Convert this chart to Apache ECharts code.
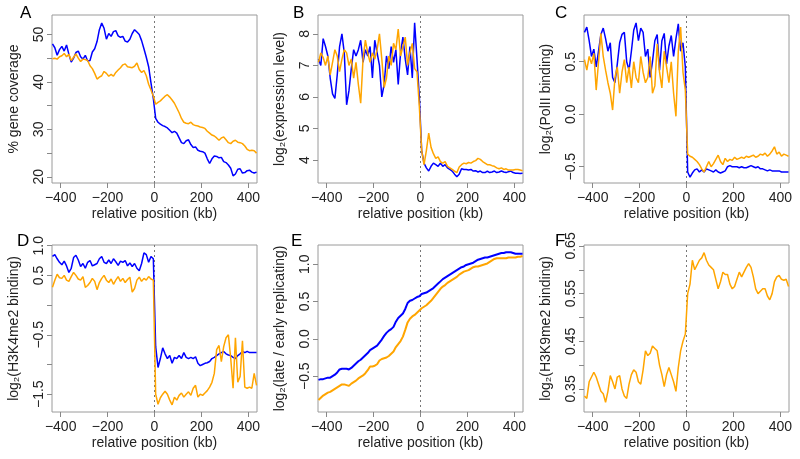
<!DOCTYPE html>
<html>
<head>
<meta charset="utf-8">
<script src="https://cdn.jsdelivr.net/npm/echarts@6/dist/echarts.min.js"></script>
<style>html,body{margin:0;padding:0;background:#fff}#c{width:800px;height:459px}</style>
</head>
<body>
<div id="c"></div>
<script>
// relative position (kb) of each sample
const positions = [
 -435,-425,-415,-405,-395,-385,-375,-365,-355,-345,-335,
 -325,-315,-305,-295,-285,-275,-265,-255,-245,-235,-225,
 -215,-205,-195,-185,-175,-165,-155,-145,-135,-125,-115,
 -105,-95,-85,-75,-65,-55,-45,-35,-25,-15,-5,
 5,15,25,35,45,55,65,75,85,95,105,
 115,125,135,145,155,165,175,185,195,205,215,
 225,235,245,255,265,275,285,295,305,315,325,
 335,345,355,365,375,385,395,405,415,425,435
];
const xTicks = [-400, -200, 0, 200, 400];

// A: % gene coverage
const aBlue = [
 48,47.2,45.6,46.8,47.5,46.5,47.8,45.8,44.2,45,46.2,
 46.5,45.3,44.8,45.6,44.4,44.5,46.3,47,48.5,51,52.4,
 51.3,49,50.2,49.6,50.6,50.8,49.7,49.4,49.6,48.6,48.4,
 49,50.2,51,50.5,50,48.7,47,45.2,43.2,39.8,36.5,
 32.3,31.5,31.1,30.8,30.6,30.3,29.8,29.3,29.6,29.2,28.2,
 27.2,27,27.6,27.8,26.8,26.2,26.3,25.6,25.4,25.3,25,
 23.8,22.8,23.8,24.4,24.3,24,24.1,23.2,23,22.5,21.8,
 20.2,20.6,21.6,21.7,20.8,20.9,21.3,21.4,21,20.8,21
];
const aOrange = [
 44.9,45,44.8,45.3,45.5,46,45.3,45.8,44.5,45.2,45.9,
 45,44.3,44.8,44.7,44.5,43.4,42.8,41.8,40.6,41,41.3,
 42.2,41.8,41.2,41.6,41.2,42,42.5,43,43.6,43.8,43.2,
 43.1,43,43.3,44,42.6,42,42.4,41.3,39.5,38.3,37,
 35.3,35.7,36,36.5,37,37.3,36.8,36.2,35.5,34.5,33.5,
 32.3,31.5,31.3,31.2,31.5,31,30.8,30.7,30.5,30.4,30.2,
 29.6,29.2,28.8,28.6,28.2,27.7,28.2,28.4,27.8,27.2,27,
 27.5,27.7,27.3,27.2,27,26.5,25.8,25.5,25.6,25.5,25
];
// B: log2(expression level)
const bBlue = [
 7.2,7.0,7.85,7.6,7.3,6.6,6.1,5.95,6.7,7.6,8.0,
 7.4,5.75,6.2,6.9,7.5,7.3,7.5,7.8,7.1,7.5,7.3,
 7.6,6.6,7.8,7.4,7.0,6.0,6.4,7.3,6.9,7.6,7.1,
 7.5,6.4,7.4,7.9,7.2,6.7,7.6,6.6,8.35,7.2,6.0,
 4.3,3.9,3.75,3.65,3.8,3.9,3.85,3.8,3.9,3.8,3.85,
 3.75,3.7,3.65,3.55,3.47,3.55,3.72,3.7,3.7,3.68,3.7,
 3.65,3.66,3.62,3.65,3.6,3.6,3.65,3.6,3.62,3.65,3.6,
 3.62,3.65,3.62,3.6,3.63,3.65,3.6,3.58,3.58,3.57,3.58
];
const bOrange = [
 7.1,7.4,7.25,7.0,7.3,6.7,7.1,7.5,7.3,6.8,7.2,
 7.5,7.4,7.0,7.2,6.6,7.1,6.4,5.8,7.2,7.8,7.4,
 7.1,7.4,7.2,7.5,8.0,7.2,6.3,6.6,7.3,7.0,7.7,
 7.5,8.15,7.3,7.6,7.9,7.0,7.4,7.7,6.9,6.8,5.7,
 4.3,3.85,4.3,4.85,4.4,4.2,4.05,4.1,3.95,3.9,3.95,
 3.8,3.75,3.7,3.65,3.6,3.78,3.85,3.9,3.88,3.92,3.9,
 3.95,3.98,4.05,4.02,3.95,3.9,3.85,3.85,3.82,3.8,3.75,
 3.72,3.75,3.7,3.72,3.68,3.68,3.68,3.7,3.7,3.68,3.66
];
// C: log2(PolII binding)
const cBlue = [
 0.78,0.83,0.7,0.55,0.62,0.45,0.6,0.76,0.82,0.72,0.6,
 0.68,0.35,0.3,0.48,0.68,0.76,0.78,0.5,0.42,0.6,0.8,
 0.87,0.7,0.82,0.78,0.55,0.62,0.35,0.5,0.7,0.76,0.42,
 0.7,0.77,0.48,0.65,0.75,0.55,0.72,0.86,0.6,0.68,0.45,
 -0.55,-0.6,-0.56,-0.53,-0.52,-0.55,-0.53,-0.55,-0.52,-0.53,-0.54,
 -0.55,-0.53,-0.55,-0.56,-0.55,-0.54,-0.5,-0.49,-0.5,-0.5,-0.5,
 -0.51,-0.5,-0.51,-0.51,-0.5,-0.49,-0.5,-0.51,-0.5,-0.52,-0.52,
 -0.53,-0.54,-0.53,-0.54,-0.54,-0.54,-0.54,-0.55,-0.55,-0.55,-0.55
];
const cOrange = [
 0.52,0.42,0.55,0.48,0.58,0.23,0.5,0.77,0.55,0.42,0.3,
 0.2,0.04,0.35,0.45,0.2,0.4,0.52,0.3,0.45,0.25,0.5,
 0.35,0.3,0.55,0.4,0.3,0.35,0.55,0.2,0.27,0.67,0.4,
 0.25,0.6,0.45,0.3,0.5,0.2,-0.02,0.6,0.83,0.4,0.23,
 -0.38,-0.4,-0.41,-0.43,-0.45,-0.48,-0.52,-0.55,-0.5,-0.45,-0.5,
 -0.47,-0.43,-0.39,-0.45,-0.48,-0.42,-0.45,-0.43,-0.44,-0.41,-0.43,
 -0.42,-0.41,-0.42,-0.4,-0.41,-0.4,-0.39,-0.41,-0.4,-0.38,-0.39,
 -0.37,-0.4,-0.38,-0.35,-0.31,-0.38,-0.36,-0.4,-0.38,-0.39,-0.4
];
// D: log2(H3K4me2 binding)
const dBlue = [
 0.82,0.85,0.78,0.72,0.68,0.74,0.66,0.55,0.62,0.8,0.84,
 0.76,0.65,0.7,0.62,0.72,0.75,0.66,0.68,0.7,0.78,0.82,
 0.72,0.7,0.76,0.7,0.78,0.73,0.67,0.74,0.72,0.75,0.66,
 0.71,0.65,0.7,0.62,0.58,0.7,0.88,0.85,0.72,0.82,0.78,
 -0.7,-1.05,-0.9,-0.72,-0.82,-0.9,-0.85,-0.98,-0.88,-0.9,-0.85,
 -0.9,-0.8,-0.88,-0.9,-0.88,-0.9,-0.87,-0.98,-1.02,-1.0,-0.98,
 -0.97,-0.95,-0.9,-0.88,-0.85,-0.82,-0.8,-0.78,-0.82,-0.84,-0.85,
 -0.88,-0.9,-0.85,-0.82,-0.78,-0.8,-0.78,-0.8,-0.8,-0.8,-0.8
];
const dOrange = [
 0.3,0.42,0.52,0.46,0.45,0.5,0.42,0.4,0.48,0.55,0.5,
 0.44,0.42,0.48,0.3,0.33,0.38,0.45,0.4,0.26,0.38,0.45,
 0.5,0.42,0.38,0.44,0.35,0.42,0.48,0.4,0.45,0.38,0.43,
 0.47,0.22,0.28,0.42,0.47,0.4,0.45,0.42,0.48,0.44,0.42,
 -1.5,-1.67,-1.56,-1.5,-1.45,-1.5,-1.6,-1.68,-1.55,-1.6,-1.52,
 -1.48,-1.55,-1.5,-1.46,-1.52,-1.4,-1.35,-1.55,-1.5,-1.52,-1.48,
 -1.44,-1.38,-1.3,-1.15,-0.75,-0.68,-0.95,-0.7,-0.55,-0.5,-0.9,
 -1.4,-0.55,-1.3,-1.2,-0.6,-1.38,-1.4,-1.38,-1.4,-1.15,-1.35
];
// E: log2(late / early replicating)
const eBlue = [
 -0.55,-0.54,-0.54,-0.53,-0.52,-0.52,-0.5,-0.48,-0.45,-0.41,-0.4,
 -0.4,-0.4,-0.41,-0.39,-0.36,-0.33,-0.3,-0.28,-0.25,-0.22,-0.19,
 -0.15,-0.13,-0.11,-0.09,-0.05,-0.01,0.04,0.08,0.11,0.13,0.16,
 0.23,0.28,0.31,0.34,0.4,0.48,0.51,0.52,0.54,0.56,0.57,
 0.6,0.61,0.62,0.64,0.66,0.68,0.71,0.74,0.77,0.8,0.82,
 0.84,0.86,0.88,0.9,0.92,0.94,0.96,0.97,0.99,1.0,1.01,
 1.02,1.04,1.06,1.07,1.08,1.09,1.09,1.1,1.11,1.12,1.13,
 1.14,1.15,1.15,1.16,1.16,1.16,1.15,1.14,1.14,1.14,1.14
];
const eOrange = [
 -0.82,-0.79,-0.76,-0.74,-0.72,-0.71,-0.69,-0.67,-0.65,-0.63,-0.61,
 -0.61,-0.62,-0.63,-0.6,-0.58,-0.56,-0.53,-0.51,-0.49,-0.46,-0.42,
 -0.37,-0.37,-0.36,-0.34,-0.29,-0.27,-0.26,-0.25,-0.23,-0.2,-0.17,
 -0.11,-0.07,-0.03,0.03,0.12,0.22,0.27,0.3,0.32,0.35,0.38,
 0.41,0.43,0.45,0.48,0.51,0.55,0.59,0.63,0.67,0.7,0.72,
 0.75,0.77,0.79,0.81,0.83,0.86,0.88,0.9,0.91,0.92,0.94,
 0.96,0.97,0.97,0.98,0.99,1.0,1.01,1.03,1.05,1.07,1.08,
 1.08,1.08,1.08,1.08,1.09,1.09,1.09,1.09,1.1,1.1,1.11
];
// F: log2(H3K9me2 binding)
const fOrange = [
 0.335,0.33,0.365,0.375,0.385,0.375,0.36,0.345,0.34,0.322,0.345,
 0.378,0.365,0.35,0.375,0.378,0.35,0.335,0.33,0.36,0.38,0.39,
 0.385,0.365,0.36,0.39,0.43,0.42,0.425,0.44,0.435,0.43,0.4,
 0.38,0.355,0.38,0.395,0.38,0.365,0.345,0.395,0.43,0.45,0.465,
 0.55,0.57,0.62,0.6,0.61,0.62,0.625,0.636,0.62,0.61,0.605,
 0.6,0.58,0.56,0.575,0.595,0.59,0.59,0.57,0.56,0.565,0.58,
 0.595,0.585,0.595,0.605,0.613,0.605,0.585,0.56,0.55,0.555,0.56,
 0.56,0.545,0.537,0.55,0.575,0.585,0.588,0.58,0.578,0.58,0.565
];

const aTicks = [20,25,30,35,40,45,50], aLabels = [20,30,40,50];
const bTicks = [4,5,6,7,8];
const cTicks = [-0.5,0,0.5];
const dTicks = [-1.5,-1,-0.5,0,0.5,1], dLabels = [-1.5,-0.5,0.5,1];
const eTicks = [-0.5,0,0.5,1];
const fTicks = [0.35,0.4,0.45,0.5,0.55,0.6,0.65], fLabels = [0.35,0.45,0.55,0.65];

const BLUE = '#0000ff', ORANGE = '#ffa500';
const FONT = '"Liberation Sans", Arial, Helvetica, sans-serif';

const panels = [
  {letter:'A', lines:[[aBlue,BLUE],[aOrange,ORANGE]], yMin:18.7, yMax:54.1, ticks:aTicks, labels:aLabels, dec:0, name:'% gene coverage', left:52, top:15, h:168, lx:20, ly:5},
  {letter:'B', lines:[[bBlue,BLUE],[bOrange,ORANGE]], yMin:3.27, yMax:8.6, ticks:bTicks, labels:bTicks, dec:0, name:'log\u2082(expression level)', left:318, top:15, h:168, lx:293, ly:5},
  {letter:'C', lines:[[cBlue,BLUE],[cOrange,ORANGE]], yMin:-0.655, yMax:0.945, ticks:cTicks, labels:cTicks, dec:1, name:'log\u2082(PolII binding)', left:584, top:15, h:168, lx:555, ly:5},
  {letter:'D', lines:[[dBlue,BLUE],[dOrange,ORANGE]], yMin:-1.80, yMax:1.012, ticks:dTicks, labels:dLabels, dec:1, name:'log\u2082(H3K4me2 binding)', left:52, top:245, h:167, lx:17, ly:233},
  {letter:'E', lines:[[eBlue,BLUE],[eOrange,ORANGE]], yMin:-0.98, yMax:1.257, ticks:eTicks, labels:eTicks, dec:1, name:'log\u2082(late / early replicating)', left:318, top:245, h:167, lx:291, ly:233},
  {letter:'F', lines:[[fOrange,ORANGE]], yMin:0.3016, yMax:0.652, ticks:fTicks, labels:fLabels, dec:2, name:'log\u2082(H3K9me2 binding)', left:584, top:245, h:167, lx:555, ly:233}
];

function fmt(v, dec) {
  const s = Math.abs(v).toFixed(dec);
  return v < 0 ? '\u2212' + s : s;
}

const grid = [], xAxis = [], yAxis = [], series = [], graphic = [];
panels.forEach((p, i) => {
  grid.push({left:p.left, top:p.top, width:205, height:p.h, show:true, borderColor:'#9a9a9a', borderWidth:1, backgroundColor:'transparent'});
  xAxis.push({
    type:'value', gridIndex:i, min:-437, max:437, position:'bottom',
    axisLine:{show:false, onZero:false}, splitLine:{show:false},
    axisTick:{show:true, customValues:xTicks, length:5, lineStyle:{color:'#888'}},
    axisLabel:{customValues:xTicks, margin:8, fontSize:14, color:'#222', fontFamily:FONT, formatter:v => fmt(v,0)},
    name:'relative position (kb)', nameLocation:'middle', nameGap:24,
    nameTextStyle:{fontSize:14, color:'#222', fontFamily:FONT}
  });
  yAxis.push({
    type:'value', gridIndex:i, min:p.yMin, max:p.yMax, position:'left',
    axisLine:{show:false, onZero:false}, splitLine:{show:false},
    axisTick:{show:true, customValues:p.ticks, length:5, lineStyle:{color:'#888'}},
    axisLabel:{customValues:p.labels, rotate:90, margin:6, fontSize:14, color:'#222', fontFamily:FONT, formatter:v => fmt(v,p.dec)},
    name:p.name, nameLocation:'middle', nameRotate:90, nameGap:31,
    nameTextStyle:{fontSize:14, color:'#222', fontFamily:FONT}
  });
  p.lines.forEach(([arr, color], k) => {
    const s = {
      type:'line', xAxisIndex:i, yAxisIndex:i, symbol:'none', showSymbol:false,
      data: positions.map((x, j) => [x, arr[j]]),
      lineStyle:{color, width: p.letter === 'E' ? 2 : 1.5}, itemStyle:{color},
      z: 3 + k, silent:true
    };
    if (k === 0) {
      s.markLine = {silent:true, symbol:'none', label:{show:false},
        lineStyle:{type:[2,3], color:'#777', width:1}, data:[{xAxis:0}], z:2};
    }
    series.push(s);
  });
  graphic.push({type:'text', left:p.lx, top:p.ly, style:{text:p.letter, fontSize:17, fill:'#000', fontFamily:FONT}});
});

const chart = echarts.init(document.getElementById('c'), null, {renderer:'canvas'});
chart.setOption({animation:false, backgroundColor:'#fff', grid, xAxis, yAxis, series, graphic});
</script>
</body>
</html>
